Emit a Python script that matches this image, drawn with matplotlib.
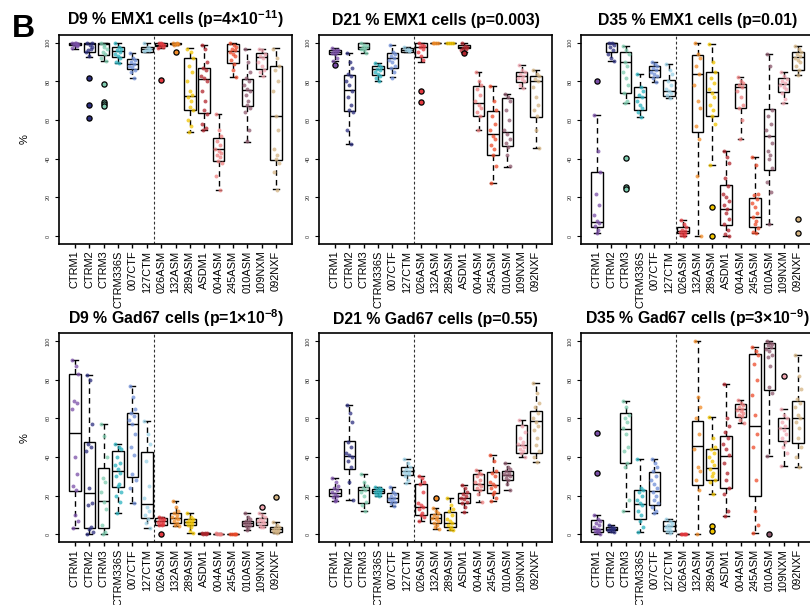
import matplotlib
matplotlib.use('Agg')
import matplotlib.pyplot as plt
import numpy as np

plt.rcParams['font.family'] = ['Liberation Sans', 'DejaVu Sans']
plt.rcParams['mathtext.fontset'] = 'custom'
plt.rcParams['mathtext.rm'] = 'Liberation Sans'
plt.rcParams['mathtext.bf'] = 'Liberation Sans:bold'

LINES = ['CTRM1', 'CTRM2', 'CTRM3', 'CTRM336S', '007CTF', '127CTM', '026ASM', '132ASM',
         '289ASM', 'ASDM1', '004ASM', '245ASM', '010ASM', '109NXM', '092NXF']
COLORS = ['#7B4FA8', '#2D2F7F', '#7FCDB0', '#2BB3C0', '#6F8FD8', '#9DD3E8', '#E53A40', '#F28C28',
          '#F2C500', '#B2262E', '#EE8080', '#EE4B2B', '#8E5A6E', '#F2A7B2', '#D4B483']
TITLES = ['D9 % EMX1 cells (p=4×10$^{\\mathbf{-11}}$)', 'D21 % EMX1 cells (p=0.003)',
          'D35 % EMX1 cells (p=0.01)', 'D9 % Gad67 cells (p=1×10$^{\\mathbf{-8}}$)',
          'D21 % Gad67 cells (p=0.55)', 'D35 % Gad67 cells (p=3×10$^{\\mathbf{-9}}$)']
YTICKS = [0, 20, 40, 60, 80, 100]

# box stats: [whisker low, q1, median, q3, whisker high]
D9_EMX1_STATS = [[97, 99, 99.5, 100, 100], [92.8, 95.3, 99.5, 100, 100], [90.5, 93.6, 99.5, 100, 100],
                 [89.7, 92.8, 95.7, 97.8, 99.7], [81.9, 86.4, 88.8, 91.4, 94.8], [95.3, 95.3, 96.6, 97.9, 100],
                 [97.5, 98.3, 99, 100, 100], [98.7, 99.1, 99.5, 100, 100], [54, 65.2, 72.6, 92.2, 97.1],
                 [54.8, 63.4, 81.2, 87.1, 98.8], [23.6, 39, 45, 50.9, 63.1], [82.4, 89.3, 95.7, 99.1, 100],
                 [48.8, 67.4, 75.7, 81.2, 96.6], [82.8, 86.4, 92.8, 94.8, 97], [24.3, 39.5, 62, 87.9, 97.1]]
D21_EMX1_STATS = [[90.7, 94, 95.3, 96.2, 97.4], [47.6, 64.5, 75.5, 83.3, 94.5], [94.5, 96.6, 97.9, 99.7, 100],
                  [80.2, 83.3, 86.2, 88.1, 89.7], [82.1, 87.1, 91.9, 94.5, 98.8], [95.3, 95.3, 96.2, 97.1, 97.9],
                  [90.2, 92.4, 97.9, 100, 100], [99.8, 100, 100, 100, 100], [99.8, 100, 100, 100, 100],
                  [95.3, 97.1, 98, 98.8, 100], [54.8, 62.2, 68.6, 77.8, 84.7], [27.3, 41.9, 53, 64.5, 77.8],
                  [35.9, 46.6, 53.8, 71.6, 73.4], [76.4, 79.8, 82.8, 85, 88.4], [45.7, 61.7, 80.2, 82.8, 85.9]]
D35_EMX1_STATS = [[1.4, 4.5, 7.4, 33.1, 62.6], [90.7, 95.3, 99.7, 100, 100], [68.6, 73.8, 89.8, 95.3, 98.3],
                  [61.7, 65.2, 71.7, 76.9, 83.8], [79.8, 82.4, 85.9, 87.9, 90.2], [71.2, 72.4, 75, 80.5, 88.8],
                  [0, 1.4, 2.6, 4.5, 8.3], [0, 54, 83.8, 93.4, 100], [36.7, 62.1, 74.3, 85, 99.1],
                  [0, 5.5, 14, 26.4, 44.1], [50, 66, 76.9, 78.6, 82.4], [1.4, 4.5, 10, 19.8, 40.7],
                  [6.2, 34.1, 51.7, 65.5, 94.1], [68.6, 74.7, 78.6, 81.6, 85], [83.3, 85.9, 92.4, 95, 98.3]]
D9_GAD_STATS = [[3.1, 22.5, 52.4, 82.8, 90.2], [0, 3.1, 21.3, 47.6, 82.5], [0, 3.5, 17.5, 34.3, 57.1],
                [11.2, 24.7, 33, 43, 46.9], [16.4, 29.9, 57.1, 62.7, 77], [3.5, 8.3, 15.7, 42.7, 58.5],
                [4.8, 4.8, 6.9, 8.3, 9.2], [4.3, 6.1, 8.7, 11.2, 17.3], [0.9, 4.8, 6.6, 7.8, 10.9],
                [0.3, 0.4, 0.5, 0.6, 0.8], [0.1, 0.2, 0.3, 0.4, 0.5], [0, 0, 0, 0.1, 0.2],
                [2.2, 4.3, 5.7, 7.1, 10.9], [3.6, 4.8, 6.6, 8.3, 11.2], [0.5, 1.4, 2.8, 4, 6.6]]
D21_GAD_STATS = [[17.3, 19.6, 21.6, 23.5, 29.4], [17.8, 33.9, 40.3, 48.2, 67], [12.3, 16.1, 23, 24.7, 31.3],
                 [19.9, 21.3, 22.5, 23.4, 24.7], [14.9, 17, 18.7, 21.3, 24.4], [26.5, 30.8, 33, 35.1, 38.9],
                 [7.1, 10, 14.4, 26, 30.3], [2.6, 6.1, 8.3, 10.4, 13.5], [2.2, 3.6, 5.7, 11.8, 19],
                 [11.8, 16.1, 18.7, 21.3, 25.6], [17, 23, 26, 31.3, 33.4], [17.5, 21.6, 25.6, 32.2, 41.2],
                 [23, 27.9, 30.8, 33, 36.9], [40, 42.1, 46.4, 56.7, 59.3], [37.4, 42.1, 58.5, 63.6, 78.5]]
D35_GAD_STATS = [[0.2, 1.2, 2.9, 7.6, 9.9], [1.2, 2.1, 2.9, 3.8, 4.7], [12.3, 36.7, 54.5, 62.8, 69.1],
                 [1, 8, 15.7, 22.8, 38.8], [11.1, 15.4, 22.3, 32.2, 38.8], [0.7, 1.6, 4.2, 6.7, 8],
                 [0, 0, 0.1, 0.2, 0.3], [0, 25.4, 45.5, 58.5, 100], [20.9, 27.9, 34.4, 44.3, 60.5],
                 [9.3, 24, 40.6, 51.1, 78], [57.5, 60.9, 64.8, 67.4, 69.6], [0.7, 20.1, 56.1, 93.1, 97.1],
                 [40.5, 74.6, 96.2, 98.8, 100], [35.3, 48.5, 55, 60, 64.8], [34.9, 47.3, 60, 69.1, 92.8]]

# individual points per line
D9_EMX1_PTS = [[100, 100, 99.5, 99, 98.5, 97.5, 100, 99], [100, 99, 98, 96, 97, 95, 93, 100],
               [100, 99, 97, 95, 94, 92, 98, 90.5], [99.7, 98, 97, 96, 95, 94, 93, 92, 90, 89.7],
               [94.8, 92, 91, 90, 89, 88, 87.5, 86, 85, 82], [100, 98, 97, 96.5, 96, 95.5],
               [100, 99.5, 99, 98.5, 98, 97.5, 100], [100, 99.6, 99.2, 98.8, 100],
               [97, 95, 92, 88, 85, 80, 75, 73, 72, 70, 67, 65, 60, 57, 54],
               [98.8, 97, 90, 87, 86, 83, 82, 80, 75, 70, 65, 63, 58, 56, 55],
               [63, 55, 52, 49, 47, 45, 44, 43, 42, 41, 39, 38, 31, 24],
               [100, 99, 98, 97, 96, 95, 94, 93, 91, 89, 86, 82.4],
               [96.6, 90, 85, 82, 80, 78, 76, 75, 73, 70, 68, 66, 64, 55, 49],
               [97, 96, 94, 93, 92, 90, 88, 86, 85, 83],
               [97, 92, 88, 86, 80, 75, 62, 55, 45, 42, 40, 38, 33, 24]]
D21_EMX1_PTS = [[97.4, 96.5, 96, 95.5, 95, 94.5, 94, 92, 90.7],
                [94.5, 90, 87, 84, 83, 80, 78, 75, 72, 68, 65, 64, 55, 47.6],
                [100, 99, 98.5, 98, 97.5, 97, 96, 94.5], [89.7, 88.5, 87.5, 86.5, 86, 85, 84, 83, 82, 80.2],
                [98.8, 95, 94, 93, 92, 91, 90, 88, 87, 85, 82], [97.9, 97, 96.5, 96, 95.5],
                [100, 99, 98.5, 98, 97, 95, 93, 91], [100, 100, 100, 99.8], [100, 100, 100, 99.8],
                [100, 98.5, 98, 97.5, 97, 96, 95.3], [84.7, 80, 78, 76, 73, 70, 68, 66, 64, 62, 55],
                [77.8, 70, 65, 62, 58, 55, 52, 50, 47, 45, 42, 36, 27.3],
                [73.4, 72, 70, 65, 60, 55, 53, 50, 48, 46, 42, 36],
                [88.4, 86, 85, 84, 83, 82, 81, 80, 78, 76.4],
                [85.9, 84, 82.8, 81, 80, 77, 72, 68, 65, 62, 55, 45.7]]
D35_EMX1_PTS = [[62.6, 44, 33, 22, 16, 11, 8, 7, 5, 3, 1.4], [100, 99.7, 99, 98, 96, 94, 92, 90.7],
                [98.3, 96, 94, 90, 88, 85, 82, 78, 74, 70, 68.6], [83.8, 77, 75, 73, 72, 70, 68, 66, 64, 61.7],
                [90.2, 89, 88, 87, 86, 85, 84, 83, 82, 79.8], [88.8, 86, 84, 80, 78, 76, 75, 74, 73, 71.2],
                [8.3, 6, 4.5, 3, 2.6, 2, 1.5, 1, 0.5, 0], [100, 94, 92, 88, 84, 78, 70, 66, 57, 50, 31, 0],
                [99.1, 90, 85, 82, 79, 76, 74, 72, 68, 65, 62, 58, 36.7],
                [44.1, 41, 38, 30, 26, 22, 20, 18, 16, 14, 12, 9, 6, 3, 1, 0],
                [82.4, 80, 79, 78, 77, 75, 72, 68, 66, 60, 50],
                [40.7, 37, 22, 21, 19, 17, 15, 12, 10, 8, 6, 4, 2, 1.4],
                [94.1, 88, 65, 62, 58, 55, 52, 48, 44, 42, 40, 35, 28, 23, 6.2],
                [85, 83, 81, 80, 79, 78, 77, 76, 74, 71, 68.6],
                [98.3, 97, 95, 94, 93, 92, 91, 90, 88, 86, 83.3]]
D9_GAD_PTS = [[90.2, 87, 83, 69, 68, 65, 40, 31, 25, 23, 10, 7, 3.1],
              [82.5, 80, 57, 47, 45, 43, 24, 16, 15, 4, 3, 1, 0],
              [57.1, 51, 40, 29, 27, 22, 17, 13, 5, 1, 0],
              [46.9, 45, 44, 40, 37, 36, 34, 32, 30, 26, 25, 22, 20, 17, 11.2],
              [77, 71, 65, 63, 61, 59, 57, 52, 45, 41, 31, 28, 24, 16.4],
              [58.5, 52, 47, 38, 25, 19, 14, 12, 10, 8, 6, 3.5],
              [9.2, 8.5, 8, 7.5, 7, 6.5, 6, 5.5, 5, 4.8],
              [17.3, 14, 12, 11, 10, 9, 8.5, 8, 7, 6, 5, 4.3],
              [10.9, 9, 8, 7.5, 7, 6.5, 6, 5.5, 5, 4, 2, 0.9],
              [0.8, 0.6, 0.5, 0.4, 0.3], [0.5, 0.4, 0.3, 0.2, 0.1], [0.2, 0.1, 0, 0, 0],
              [10.9, 9, 8, 7, 6.5, 6, 5.5, 5, 4.5, 3.5, 2.2],
              [11.2, 10, 9, 8, 7.5, 7, 6.5, 6, 5, 4, 3.6],
              [6.6, 5, 4, 3.5, 3, 2.5, 2, 1.5, 1, 0.5]]
D21_GAD_PTS = [[29.4, 27, 25, 24, 23, 22, 21, 20, 19.5, 18, 17.3],
               [67, 63, 58, 48, 45, 42, 41, 40, 38, 35, 27, 18],
               [31.3, 27, 25, 24, 23, 22, 20, 17, 15, 12.3],
               [24.7, 24, 23.5, 23, 22.5, 22, 21.5, 21, 20.5, 19.9],
               [24.4, 22, 21, 20, 19, 18.5, 18, 17, 16, 14.9],
               [38.9, 37, 35, 34, 33, 32.5, 32, 31, 30, 28, 26.5],
               [30.3, 29, 27, 26, 22, 16, 15, 14, 13, 11, 10, 9, 7.1],
               [13.5, 12, 11, 10, 9, 8.5, 8, 7, 6, 5, 4, 2.6],
               [19, 15, 13, 12, 10, 8, 7, 6, 5, 4, 3, 2.2],
               [25.6, 24, 22, 21, 20, 19, 18.5, 17, 16, 14, 11.8],
               [33.4, 32, 31, 30, 28, 27, 26, 25, 24, 23, 21, 17],
               [41.2, 38, 33, 32, 30, 27, 26, 25, 24, 22, 21, 19, 17.5],
               [36.9, 35, 34, 33, 32, 31, 30.5, 30, 29, 28, 26, 23],
               [59.3, 56, 53, 50, 48, 47, 46, 45, 44, 43, 42, 40],
               [78.5, 73, 68, 66, 63, 60, 58, 56, 54, 50, 46, 43, 40, 37.4]]
D35_GAD_PTS = [[9.9, 8, 7, 6, 5, 4, 3, 2.5, 2, 1.5, 1, 0.2], [4.7, 4, 3.5, 3, 2.8, 2.5, 2, 1.2],
               [69.1, 66, 62, 60, 58, 55, 52, 45, 43, 37, 35, 18, 12.3],
               [38.8, 24, 23, 22, 20, 18, 16, 15, 12, 10, 7, 4, 1],
               [38.8, 37, 35, 33, 30, 28, 26, 24, 22, 20, 18, 16, 14, 12, 11.1],
               [8, 7, 6, 5, 4.5, 4, 3, 2, 1.5, 0.7], [0.3, 0.2, 0.1, 0, 0],
               [100, 71, 66, 60, 52, 44, 35, 33, 28, 23, 0],
               [60.5, 50, 45, 44, 42, 40, 38, 36, 34, 32, 30, 28, 27, 20.9],
               [78, 60, 56, 53, 50, 47, 44, 41, 37, 32, 28, 24, 21, 12, 9.3],
               [69.6, 68, 67, 66, 65, 64.5, 64, 63, 62, 61, 59, 57.5],
               [97.1, 95, 93, 88, 80, 72, 62, 52, 45, 28, 12, 5, 0.7],
               [100, 99, 98.5, 98, 97, 96, 95, 93, 92, 87, 76, 73, 40.5],
               [64.8, 62, 60, 58, 56, 55, 54, 52, 50, 48, 45, 42, 35.3],
               [92.8, 82, 75, 70, 68, 66, 62, 60, 58, 55, 50, 45, 40, 34.9]]

# outliers per line
D9_EMX1_OUT = [[], [82, 68, 61], [78.6, 69.5, 68.5, 67.5], [], [], [], [80.5], [95.2], [], [], [], [], [], [], []]
D21_EMX1_OUT = [[88.4], [], [], [], [], [], [75.2, 69.1], [], [], [94.5], [], [], [], [], []]
D35_EMX1_OUT = [[80.2], [], [40.2, 25.5, 24.2], [], [], [], [], [], [14.8, 0], [], [], [], [], [], [8.6, 1.4]]
D9_GAD_OUT = [[], [], [], [], [], [], [0.2], [], [], [], [], [], [], [14.4], [19.5]]
D21_GAD_OUT = [[], [], [], [], [], [], [], [19], [], [], [], [], [], [], []]
D35_GAD_OUT = [[52.5, 31.5], [], [], [], [], [], [], [], [4.2, 1.6], [], [], [], [0], [82], []]

JITTER = [-0.18, 0.05, 0.2, -0.08, 0.12, -0.22, 0.0, 0.16, -0.12, 0.08, -0.02, 0.22, -0.16, 0.1, -0.05, 0.18]

W, H = 810, 605
fig = plt.figure(figsize=(W / 100, H / 100), dpi=100)

col_left = [59.2, 319.2, 581.2]
ax_w = 232.6
row_top = [35.0, 333.3]
ax_h = 208.8

panels = [(D9_EMX1_STATS, D9_EMX1_PTS, D9_EMX1_OUT), (D21_EMX1_STATS, D21_EMX1_PTS, D21_EMX1_OUT),
          (D35_EMX1_STATS, D35_EMX1_PTS, D35_EMX1_OUT), (D9_GAD_STATS, D9_GAD_PTS, D9_GAD_OUT),
          (D21_GAD_STATS, D21_GAD_PTS, D21_GAD_OUT), (D35_GAD_STATS, D35_GAD_PTS, D35_GAD_OUT)]

pos = np.arange(1, len(LINES) + 1)
for k, (stats, pts, outs) in enumerate(panels):
    r, c = divmod(k, 3)
    ax = fig.add_axes([col_left[c] / W, 1 - (row_top[r] + ax_h) / H, ax_w / W, ax_h / H])
    bstats = [dict(whislo=s[0], q1=s[1], med=s[2], q3=s[3], whishi=s[4], fliers=[]) for s in stats]
    ax.bxp(bstats, positions=pos, widths=0.8, capwidths=0.4, showfliers=False, patch_artist=True,
           boxprops=dict(facecolor='white', edgecolor='black', linewidth=1.0),
           whiskerprops=dict(color='black', linestyle=(0, (4, 3)), linewidth=1.0),
           capprops=dict(color='black', linewidth=1.0),
           medianprops=dict(color='black', linewidth=1.0))
    for i, (vals, col) in enumerate(zip(pts, COLORS)):
        xs = [pos[i] + JITTER[j % len(JITTER)] for j in range(len(vals))]
        ax.scatter(xs, vals, s=8, color=col, alpha=0.75, linewidths=0, zorder=4)
        if outs[i]:
            ax.scatter([pos[i]] * len(outs[i]), outs[i], s=14, facecolor=col, edgecolor='black',
                       linewidths=0.9, zorder=5)
    ax.axvline(6.5, color='#333333', linestyle=(0, (2.5, 2)), linewidth=0.8, zorder=1)
    ax.set_xlim(-0.1, 16.1)
    ax.set_ylim(-4, 104)
    ax.set_xticks(pos)
    ax.set_xticklabels(LINES, rotation=90, fontsize=7.9)
    ax.set_yticks(YTICKS)
    ax.set_yticklabels([str(v) for v in YTICKS], rotation=90, va='center', fontsize=4, color='#333333')
    ax.tick_params(axis='x', length=3, pad=2, width=1.0)
    ax.tick_params(axis='y', length=3, pad=3, width=0.8)
    for sp in ax.spines.values():
        sp.set_linewidth(1.2)
    ax.set_title(TITLES[k], fontsize=11.4, fontweight='bold', pad=7)
    if c == 0:
        ax.set_ylabel('%', fontsize=8)
        ax.yaxis.set_label_coords(-0.125, 0.5)

fig.text(12 / W, 1 - 37 / H, 'B', fontsize=23, fontweight='bold', va='baseline', ha='left')

fig.savefig('out.png', dpi=100)
